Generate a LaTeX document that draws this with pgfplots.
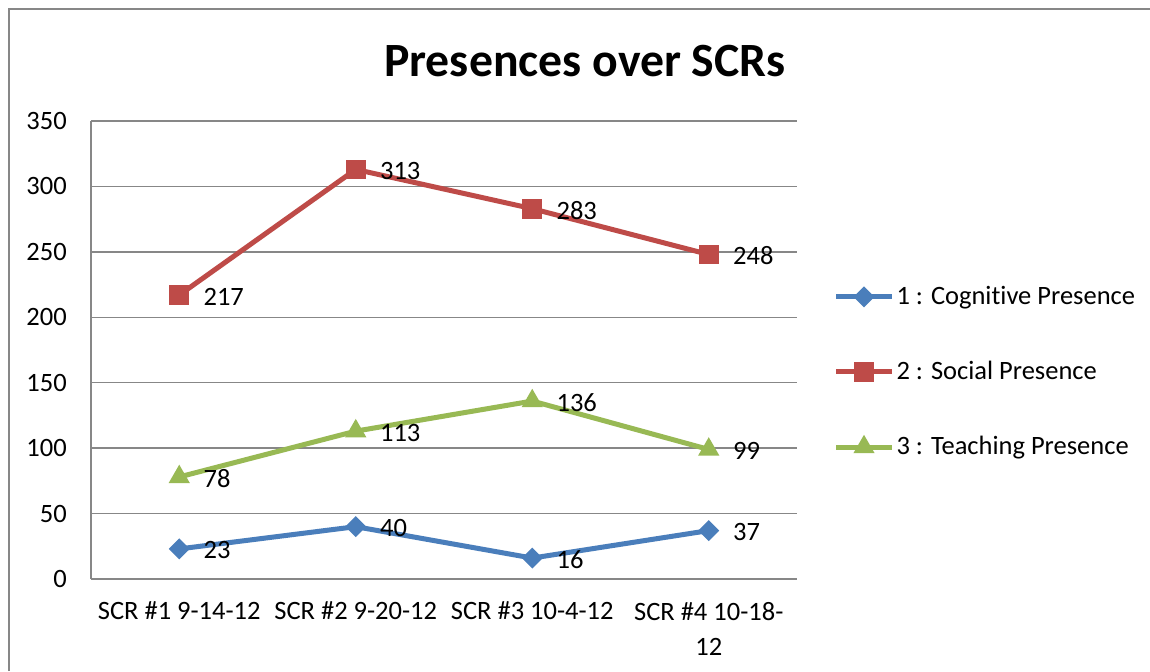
\documentclass[border=0pt]{standalone}
\usepackage{fontspec}
\setmainfont{Carlito}[RawFeature={-liga;-clig;-calt;-dlig;-rlig}]
\usepackage{pgfplots}
\pgfplotsset{compat=1.18}
\definecolor{cblue}{HTML}{4A7EBB}
\definecolor{cred}{HTML}{BE4B48}
\definecolor{cgreen}{HTML}{98B954}
\definecolor{gridgray}{HTML}{878787}
\begin{document}
\begin{tikzpicture}
\useasboundingbox (0,0) rectangle (460pt,268.4pt);
\fill[white] (0,0) rectangle (460pt,268.4pt);
\draw[color=gridgray, line width=0.8pt] (3.6pt,0) -- (3.6pt,264.8pt) -- (470pt,264.8pt);
\node[font=\fontsize{19.1}{22}\selectfont\bfseries] at (234pt,244pt) {Presences over SCRs};
\begin{axis}[
  at={(36.4pt,36.8pt)}, anchor=south west, scale only axis,
  width=282.4pt, height=183.2pt,
  xmin=-0.5, xmax=3.5, ymin=0, ymax=350,
  xtick={0,1,2,3},
  xticklabels={SCR \#1 9-14-12, SCR \#2 9-20-12, SCR \#3 10-4-12, {SCR \#4 10-18-\\12}},
  ytick={0,50,...,350},
  /pgf/number format/assume math mode=true,
  ymajorgrids, grid style={color=gridgray, line width=0.6pt},
  axis x line*=bottom, axis y line*=left,
  axis line style={color=gridgray, line width=0.8pt},
  major tick length=0pt,
  tick label style={font=\fontsize{10.6}{14}\selectfont, text=black},
  xticklabel style={align=center, inner sep=0pt, yshift=-9pt},
  yticklabel style={inner sep=0pt, xshift=-9.5pt},
  nodes near coords,
  every node near coord/.append style={anchor=west, inner sep=0pt, xshift=9.5pt, yshift=-0.6pt, text=black, font=\fontsize{10.6}{13}\selectfont},
  legend style={at={(1.051,0.452)}, anchor=west, draw=none, fill=none,
    font=\fontsize{10.6}{13}\selectfont, row sep=19.6pt, inner sep=0pt,
    nodes={inner sep=0.8pt}},
  legend cell align=left,
  legend image code/.code={\draw[mark repeat=2,mark phase=2] plot coordinates {(0pt,0pt) (11.2pt,0pt) (22.4pt,0pt)};},
  every axis plot/.append style={line width=2pt},
]
\addplot[color=cblue, mark=square*, mark size=2.7pt, mark options={rotate=45, line width=0.5pt}] coordinates {(0,23) (1,40) (2,16) (3,37)};
\addlegendentry{1 : Cognit\kern0pt ive Presence}
\addplot[color=cred, mark=square*, mark size=3.7pt, mark options={line width=0.5pt}] coordinates {(0,217) (1,313) (2,283) (3,248)};
\addlegendentry{2 : Social Presence}
\addplot[color=cgreen, mark=triangle*, mark size=4.4pt, mark options={line width=0.5pt}] coordinates {(0,78) (1,113) (2,136) (3,99)};
\addlegendentry{3 : Teaching Presence}
\end{axis}
\end{tikzpicture}
\end{document}
